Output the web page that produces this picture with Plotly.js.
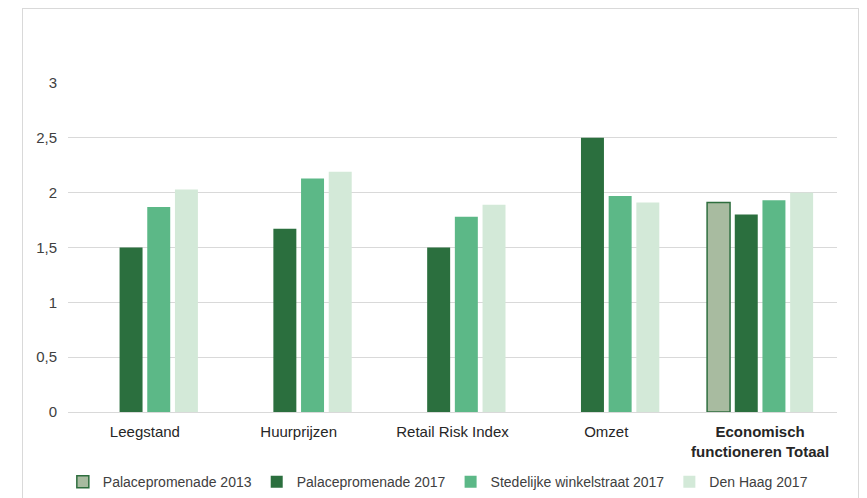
<!DOCTYPE html>
<html>
<head>
<meta charset="utf-8">
<script src="https://cdn.plot.ly/plotly-3.0.1.min.js"></script>
<style>
html,body{margin:0;padding:0;background:#fff;}
#wrap{position:relative;width:867px;height:498px;overflow:hidden;}
#chart{position:absolute;left:0;top:0;width:867px;height:498px;}
#frame{position:absolute;left:22px;top:8px;width:835px;height:500px;border:1px solid #d9d9d9;pointer-events:none;}
</style>
</head>
<body>
<div id="wrap"><div id="chart"></div><div id="frame"></div></div>
<script>
const categories = ["Leegstand", "Huurprijzen", "Retail Risk Index", "Omzet", "<b>Economisch</b><br><b>functioneren Totaal</b>"];
const seriesNames = ["Palacepromenade 2013", "Palacepromenade 2017", "Stedelijke winkelstraat 2017", "Den Haag 2017"];
const palace2013 = [null, null, null, null, 1.91];
const palace2017 = [1.5, 1.67, 1.5, 2.5, 1.8];
const stedelijk2017 = [1.87, 2.13, 1.78, 1.97, 1.93];
const denHaag2017 = [2.03, 2.19, 1.89, 1.91, 2.0];
const yTicks = [0, 0.5, 1, 1.5, 2, 2.5, 3];
const yTickText = ["0", "0,5", "1", "1,5", "2", "2,5", "3"];

const values = [palace2013, palace2017, stedelijk2017, denHaag2017];
const fills = ["#a8bba0", "#2b6f3e", "#5cb887", "#d3e9d8"];
const lines = ["#2e6e3e", "#2b6f3e", "#5cb887", "#d3e9d8"];
const lineW = [1.5, 0, 0, 0];

const data = values.map((v, i) => ({
  type: "bar",
  name: seriesNames[i],
  x: categories,
  y: v,
  marker: {color: fills[i], line: {color: lines[i], width: lineW[i]}},
  hoverinfo: "x+y+name"
}));

const layout = {
  width: 867, height: 498,
  margin: {l: 68, r: 30, t: 83, b: 86},
  paper_bgcolor: "#ffffff",
  plot_bgcolor: "#ffffff",
  font: {family: "Liberation Sans, Arial, sans-serif", size: 15, color: "#404040"},
  barmode: "group",
  bargap: 0.28,
  bargroupgap: 0.17,
  separators: ",.",
  showlegend: true,
  legend: {orientation: "h", xref: "container", yref: "container",
           x: 0.505, xanchor: "center", y: 0.032, yanchor: "middle",
           font: {size: 14, color: "#404040"},
           itemwidth: 30, traceorder: "normal"},
  xaxis: {
    type: "category",
    showgrid: false, zeroline: false, showline: false,
    ticks: "", tickfont: {size: 15, color: "#262626"},
    ticklabelstandoff: 9,
    automargin: false
  },
  yaxis: {
    range: [0, 3],
    tickvals: yTicks, ticktext: yTickText,
    showgrid: true, gridcolor: "#d9d9d9", gridwidth: 1,
    zeroline: true, zerolinecolor: "#d9d9d9", zerolinewidth: 1,
    showline: false, ticks: "",
    tickfont: {size: 15, color: "#404040"},
    ticklabelstandoff: 10,
    automargin: false
  }
};

Plotly.newPlot("chart", data, layout, {displayModeBar: false, staticPlot: true});
</script>
</body>
</html>
